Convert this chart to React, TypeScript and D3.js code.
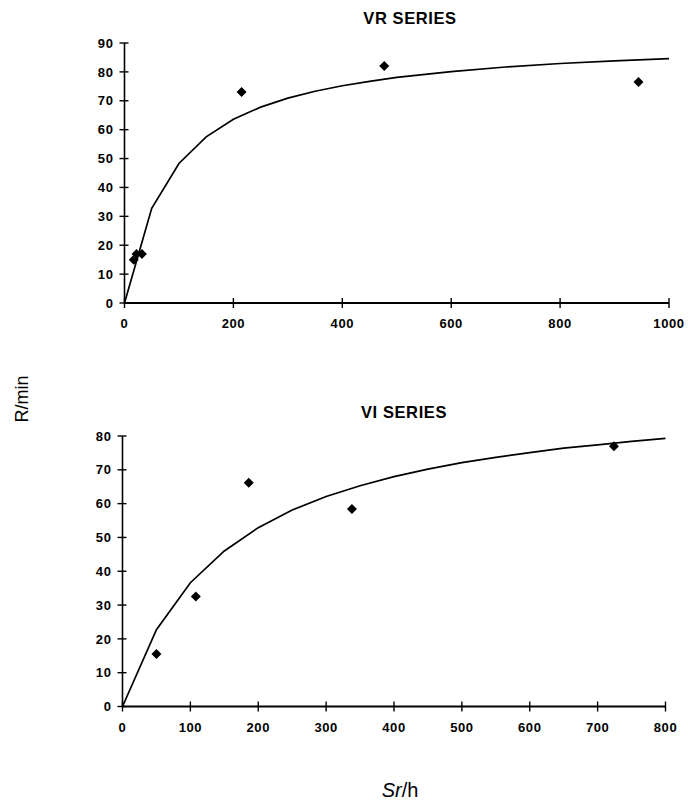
import React from "react";
import * as d3 from "d3";

// VR series data
const vrPointsX = [17, 22, 32, 215, 477, 944];
const vrPointsY = [15, 17, 17, 73, 82, 76.5];
const vrCurveX = [0, 50, 100, 150, 200, 250, 300, 350, 400, 450, 500, 600, 700, 800, 900, 1000];
const vrCurveY = [0, 32.8, 48.3, 57.5, 63.6, 67.8, 70.9, 73.3, 75.2, 76.7, 78.1, 80.1, 81.7, 82.9, 83.8, 84.6];
const vrXTicks = [0, 200, 400, 600, 800, 1000];
const vrYTicks = [0, 10, 20, 30, 40, 50, 60, 70, 80, 90];

// VI series data
const viPointsX = [50, 108, 186, 338, 724];
const viPointsY = [15.5, 32.5, 66.2, 58.4, 77];
const viCurveX = [0, 50, 100, 150, 200, 250, 300, 350, 400, 450, 500, 550, 600, 650, 700, 750, 800];
const viCurveY = [0, 22.7, 36.6, 46.0, 52.9, 58.1, 62.1, 65.3, 68.0, 70.2, 72.1, 73.7, 75.1, 76.4, 77.4, 78.4, 79.3];
const viXTicks = [0, 100, 200, 300, 400, 500, 600, 700, 800];
const viYTicks = [0, 10, 20, 30, 40, 50, 60, 70, 80];

const FONT = "'Liberation Sans', Arial, sans-serif";

type PanelProps = {
  title: string;
  px: number[];
  py: number[];
  cx: number[];
  cy: number[];
  xTicks: number[];
  yTicks: number[];
  x0: number;
  x1: number;
  y0: number;
  y1: number;
  titleX: number;
  titleY: number;
};

function Panel(p: PanelProps) {
  const xMax = p.xTicks[p.xTicks.length - 1];
  const yMax = p.yTicks[p.yTicks.length - 1];
  const x = d3.scaleLinear().domain([0, xMax]).range([p.x0, p.x1]);
  const y = d3.scaleLinear().domain([0, yMax]).range([p.y0, p.y1]);
  const line = d3
    .line<number>()
    .x((_, i) => x(p.cx[i]))
    .y((d) => y(d));
  const diamond = d3.symbol().type(d3.symbolSquare).size(50)() as string;
  return (
    <g>
      <text
        x={p.titleX}
        y={p.titleY}
        textAnchor="middle"
        fontFamily={FONT}
        fontWeight="bold"
        fontSize={16.5}
        letterSpacing={0.6}
      >
        {p.title}
      </text>
      {/* y axis */}
      <line x1={p.x0} x2={p.x0} y1={p.y0} y2={p.y1} stroke="#000" strokeWidth={1.6} />
      {p.yTicks.map((t) => (
        <g key={"y" + t}>
          <line x1={p.x0 - 5} x2={p.x0 + 4} y1={y(t)} y2={y(t)} stroke="#000" strokeWidth={1.4} />
          <text
            x={p.x0 - 11}
            y={y(t)}
            dy="0.36em"
            textAnchor="end"
            fontFamily={FONT}
            fontWeight="bold"
            fontSize={13}
            letterSpacing={0.6}
          >
            {t}
          </text>
        </g>
      ))}
      {/* x axis */}
      <line x1={p.x0} x2={p.x1} y1={p.y0} y2={p.y0} stroke="#000" strokeWidth={2.2} />
      {p.xTicks.map((t) => (
        <g key={"x" + t}>
          <line x1={x(t)} x2={x(t)} y1={p.y0 - 5} y2={p.y0 + 5} stroke="#000" strokeWidth={1.4} />
          <text
            x={x(t)}
            y={p.y0 + 25}
            textAnchor="middle"
            fontFamily={FONT}
            fontWeight="bold"
            fontSize={13}
            letterSpacing={0.6}
          >
            {t}
          </text>
        </g>
      ))}
      <path d={line(p.cy) || ""} fill="none" stroke="#000" strokeWidth={1.7} />
      {p.px.map((v, i) => (
        <path
          key={"p" + i}
          d={diamond}
          transform={`translate(${x(v)},${y(p.py[i])}) rotate(45)`}
          fill="#000"
        />
      ))}
    </g>
  );
}

export default function App() {
  return (
    <svg
      width={688}
      height={802}
      style={{ position: "absolute", left: 0, top: 0, background: "#fff" }}
    >
      <rect width={688} height={802} fill="#fff" />
      <Panel
        title="VR SERIES"
        px={vrPointsX}
        py={vrPointsY}
        cx={vrCurveX}
        cy={vrCurveY}
        xTicks={vrXTicks}
        yTicks={vrYTicks}
        x0={124.5}
        x1={669}
        y0={303}
        y1={43}
        titleX={410}
        titleY={24}
      />
      <Panel
        title="VI SERIES"
        px={viPointsX}
        py={viPointsY}
        cx={viCurveX}
        cy={viCurveY}
        xTicks={viXTicks}
        yTicks={viYTicks}
        x0={122.5}
        x1={665.5}
        y0={706.5}
        y1={436}
        titleX={404}
        titleY={418}
      />
      <text
        transform="translate(28,399) rotate(-90)"
        textAnchor="middle"
        fontFamily={FONT}
        fontSize={18}
      >
        R/min
      </text>
      <text x={400} y={797} textAnchor="middle" fontFamily={FONT} fontSize={20}>
        <tspan fontStyle="italic">Sr</tspan>/h
      </text>
    </svg>
  );
}
